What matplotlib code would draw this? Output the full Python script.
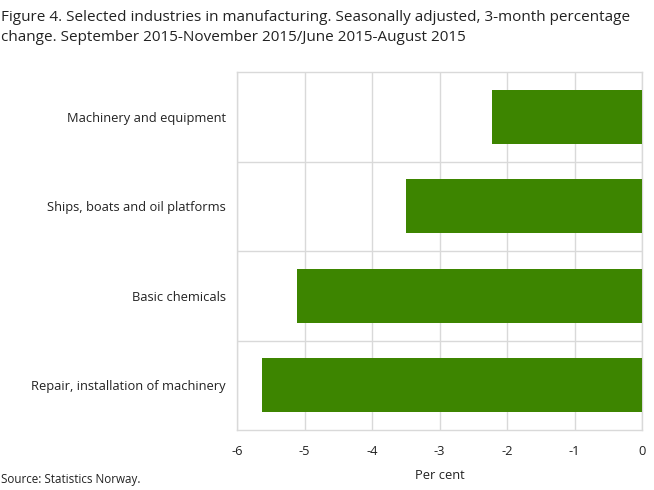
import matplotlib.pyplot as plt

plt.rcParams['font.family'] = ['Open Sans', 'DejaVu Sans']

industries = ['Machinery and equipment', 'Ships, boats and oil platforms',
              'Basic chemicals', 'Repair, installation of machinery']
change = [-2.22, -3.5, -5.11, -5.63]
xticks = [-6, -5, -4, -3, -2, -1, 0]

fig = plt.figure(figsize=(6.54, 4.9), dpi=100)
ax = fig.add_axes([0.3624, 0.1224, 0.6193, 0.7306])

pos = list(range(len(industries)))
ax.barh(pos, change, height=0.6, color='#3d8500', zorder=3)
ax.set_ylim(len(industries) - 0.5, -0.5)
ax.set_xlim(-6, 0)
ax.set_xticks(xticks)
ax.set_xticklabels([str(t) for t in xticks])
ax.set_yticks(pos)
ax.set_yticklabels(industries)

# grid: vertical at ticks, horizontal between categories
ax.grid(axis='x', color='#d9d9d9', linewidth=1, zorder=0)
for b in [0.5, 1.5, 2.5]:
    ax.axhline(b, color='#d9d9d9', linewidth=1, zorder=0)
for s in ax.spines.values():
    s.set_color('#d9d9d9')
    s.set_linewidth(1)

ax.tick_params(axis='both', length=0, labelsize=9.3, colors='#222222')
ax.tick_params(axis='x', pad=11)
ax.tick_params(axis='y', pad=8)
ax.set_xlabel('Per cent', fontsize=9.3, color='#222222', labelpad=8)

fig.text(0.002, 0.98, 'Figure 4. Selected industries in manufacturing. Seasonally adjusted, 3-month percentage\n'
         'change. September 2015-November 2015/June 2015-August 2015',
         ha='left', va='top', fontsize=11, color='#222222', linespacing=1.5)
fig.text(0.002, 0.008, 'Source: Statistics Norway.', ha='left', va='bottom', fontsize=8.4, color='#222222')

fig.savefig('out.png', dpi=100)
